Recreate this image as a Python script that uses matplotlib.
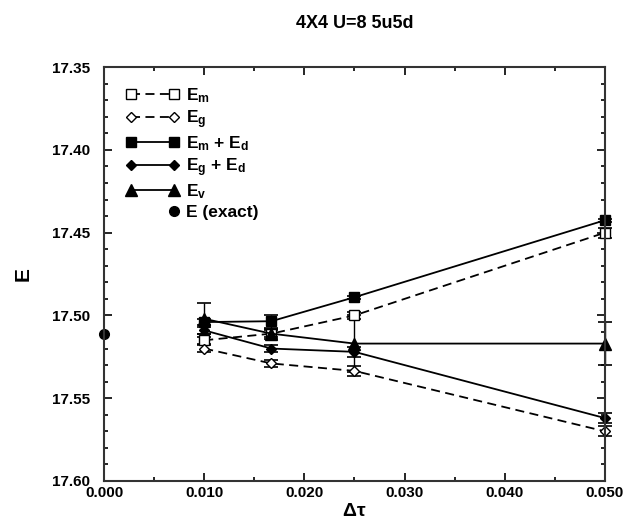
import matplotlib
matplotlib.use('Agg')
import matplotlib.pyplot as plt
from matplotlib.legend_handler import HandlerLine2D
from matplotlib.lines import Line2D
from matplotlib.ticker import MultipleLocator, FormatStrFormatter

plt.rcParams['font.family'] = ['Liberation Sans', 'DejaVu Sans']
plt.rcParams['font.weight'] = 'bold'
plt.rcParams['axes.labelweight'] = 'bold'
plt.rcParams['mathtext.fontset'] = 'custom'
plt.rcParams['mathtext.rm'] = 'Liberation Sans:bold'
plt.rcParams['mathtext.it'] = 'Liberation Sans:bold'
plt.rcParams['mathtext.bf'] = 'Liberation Sans:bold'
plt.rcParams['lines.dashed_pattern'] = (5.0, 3.0)

# шаги по времени
dtau = [0.010, 0.0167, 0.025, 0.050]

# энергии и ошибки
e_m = [17.515, 17.511, 17.500, 17.450]
e_m_err = [0.002, 0.002, 0.002, 0.003]
e_g = [17.520, 17.529, 17.5335, 17.570]
e_g_err = [0.002, 0.002, 0.003, 0.003]
e_md = [17.504, 17.5035, 17.489, 17.4425]
e_md_err = [0.002, 0.004, 0.001, 0.001]
e_gd = [17.509, 17.520, 17.522, 17.562]
e_gd_err = [0.002, 0.002, 0.003, 0.003]
e_v = [17.502, 17.511, 17.517, 17.517]
e_v_err = [0.0095, 0.003, 0.017, 0.013]

dtau_exact = [0.0]
e_exact = [17.5115]


class DotAtEnd(HandlerLine2D):
    # маркер только на правом конце
    def create_artists(self, *args, **kwargs):
        arts = super().create_artists(*args, **kwargs)
        arts[0].set_markevery([1])
        return arts


fig = plt.figure(figsize=(6.23, 5.2), dpi=100)
ax = fig.add_axes([0.167, 0.075, 0.804, 0.796])

series = [
    (e_m, e_m_err, 's', '--', 'white', 6.5, 'E$_m$'),
    (e_g, e_g_err, 'D', '--', 'white', 5.5, 'E$_g$'),
    (e_md, e_md_err, 's', '-', 'black', 6.5, 'E$_m$ + E$_d$'),
    (e_gd, e_gd_err, 'D', '-', 'black', 5.5, 'E$_g$ + E$_d$'),
    (e_v, e_v_err, '^', '-', 'black', 8, 'E$_v$'),
]

handles = []
labels = []
for y, err, mk, ls, fc, ms, lab in series:
    ax.errorbar(dtau, y, yerr=err, fmt=mk, ls=ls, color='black', mfc=fc, mec='black',
                ms=ms, lw=1.3, capsize=5, elinewidth=1.0, capthick=1.2, clip_on=False)
    handles.append(Line2D([], [], marker=mk, ls=ls, color='black', mfc=fc, mec='black', ms=ms, lw=1.3))
    labels.append(lab)

ax.plot(dtau_exact, e_exact, 'o', color='black', ms=7, clip_on=False)
exact_handle = Line2D([], [], marker='o', ls='none', color='black', ms=7)
handles.append(exact_handle)
labels.append('E (exact)')

ax.legend(handles, labels, loc='upper left', bbox_to_anchor=(0.012, 0.992), frameon=False,
          fontsize=12.5, numpoints=2, handlelength=3.1, handletextpad=0.35, labelspacing=0.2,
          handler_map={exact_handle: DotAtEnd(numpoints=2)})

ax.set_xlim(0.0, 0.05)
ax.set_ylim(17.60, 17.35)
ax.xaxis.set_major_locator(MultipleLocator(0.01))
ax.xaxis.set_minor_locator(MultipleLocator(0.005))
ax.yaxis.set_major_locator(MultipleLocator(0.05))
ax.yaxis.set_minor_locator(MultipleLocator(0.01))
ax.xaxis.set_major_formatter(FormatStrFormatter('%.3f'))
ax.yaxis.set_major_formatter(FormatStrFormatter('%.2f'))
ax.tick_params(which='both', direction='in', top=True, right=True, labelsize=11, width=1.2)
ax.tick_params(axis='y', pad=10)
ax.tick_params(which='major', length=6)
ax.tick_params(which='minor', length=3)
for s in ax.spines.values():
    s.set_linewidth(1.5)
    s.set_color('#333333')

ax.set_xlabel(r'$\Delta\tau$', fontsize=14, labelpad=2)
ax.set_ylabel('E', fontsize=15, fontweight='bold', labelpad=14)
ax.set_title('4X4 U=8 5u5d', fontsize=13, fontweight='bold', pad=28)

plt.savefig('out.png', dpi=100)
